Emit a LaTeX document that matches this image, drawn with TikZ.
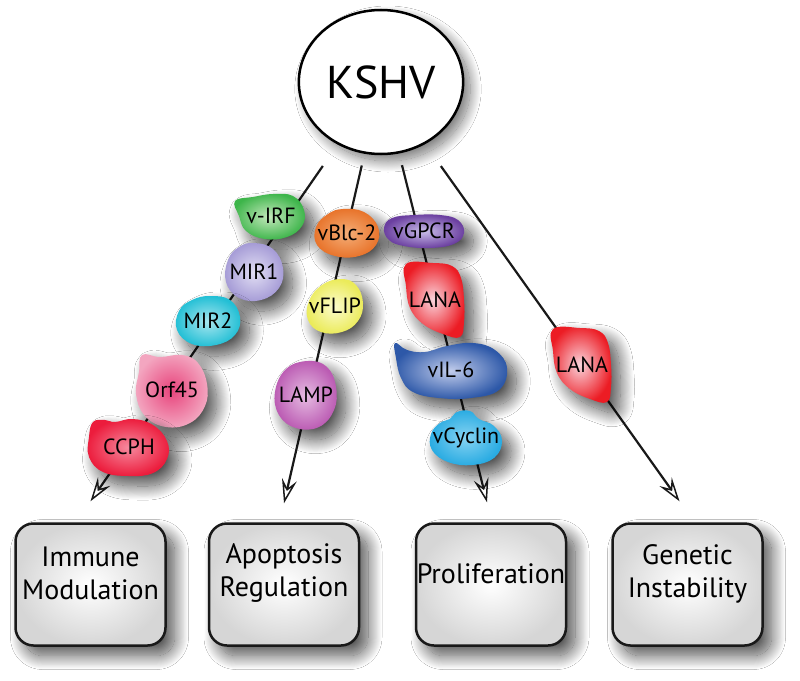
\documentclass[tikz,border=0pt]{standalone}
\usepackage{fontspec}
\setmainfont{PT Sans}
\usetikzlibrary{shapes.geometric,arrows.meta,shadows.blur,calc}

\definecolor{cIRFo}{HTML}{3DB54A}\definecolor{cIRFi}{HTML}{C4E8BC}
\definecolor{cMIAo}{HTML}{A59BD6}\definecolor{cMIAi}{HTML}{E2DFF4}
\definecolor{cMIBo}{HTML}{22BFD5}\definecolor{cMIBi}{HTML}{A8E6EF}
\definecolor{cORFo}{HTML}{F3A6C0}\definecolor{cORFi}{HTML}{E8447C}
\definecolor{cCCPo}{HTML}{EC1C3C}\definecolor{cCCPi}{HTML}{F6899E}
\definecolor{cBCLo}{HTML}{E8732A}\definecolor{cBCLi}{HTML}{F4AE78}
\definecolor{cFLPo}{HTML}{EBEB5A}\definecolor{cFLPi}{HTML}{FBFBCC}
\definecolor{cLMPo}{HTML}{BB5BB3}\definecolor{cLMPi}{HTML}{E6BCE2}
\definecolor{cGPCo}{HTML}{6B3FA0}\definecolor{cGPCi}{HTML}{C9BEE9}
\definecolor{cLANo}{HTML}{EC1C24}\definecolor{cLANi}{HTML}{FAD4DC}
\definecolor{cVILo}{HTML}{2D58A8}\definecolor{cVILi}{HTML}{C2CDEC}
\definecolor{cCYCo}{HTML}{29ABE2}\definecolor{cCYCi}{HTML}{86D3F2}

\tikzset{
  every node/.style={font=\fontsize{22}{25}\selectfont},
  kshvnode/.style={ellipse, draw=black, line width=2.5pt, fill=white,
    minimum width=153pt, minimum height=144pt,
    font=\fontsize{46}{50}\selectfont,
    blur shadow={shadow xshift=7pt, shadow yshift=-7pt, shadow blur radius=11pt, shadow blur steps=30, shadow opacity=55}},
  outbox/.style={draw=black!90, line width=2.5pt, rounded corners=18pt,
    minimum width=150pt, minimum height=122pt, inner color=white, outer color=black!16,
    blur shadow={shadow xshift=9pt, shadow yshift=-10pt, shadow blur radius=14pt, shadow blur steps=30, shadow opacity=70}},
  boxtext/.style={align=center, font=\fontsize{28}{33}\selectfont},
  blobtext/.style={inner sep=0pt},
  blobfill/.style={blur shadow={shadow xshift=9pt, shadow yshift=-10pt, shadow blur radius=14pt, shadow blur steps=30, shadow opacity=70}},
  conn/.style={line width=2.2pt, draw=black!90,
    -{Stealth[length=24pt, width=15pt, inset=9pt, fill=white, line width=1.5pt]}}
}

\newcommand{\blobnode}[6]{%
  \path[blobfill, shift={(#2)}, outer color=#4, inner color=#5]
    plot[smooth cycle, tension=0.7] coordinates {#6};
  \node[blobtext] (#1) at (#2) {#3};}

\begin{document}
\begin{tikzpicture}[x=1pt,y=-1pt]
\useasboundingbox (0,0) rectangle (800,680);
\fill[white] (0,0) rectangle (800,680);

\node[kshvnode] (kshv) at (381,82) {KSHV};

\node[outbox] (b1) at (90.5,584.5) {};
\node[outbox] (b2) at (284,584.5) {};
\node[outbox] (b3) at (491,584.5) {};
\node[outbox] (b4) at (687.5,584.5) {};
\node[boxtext] (l1) at ([yshift=11pt]b1.center) {Immune\\Modulation};
\node[boxtext] (l2) at ([yshift=11pt]b2.center) {Apoptosis\\Regulation};
\node[boxtext] (l3) at ([yshift=11pt]b3.center) {Proliferation};
\node[boxtext] (l4) at ([yshift=11pt]b4.center) {Genetic\\Instability};

\coordinate (t1) at ([yshift=21pt]b1.north);
\coordinate (t2) at ([yshift=19pt]b2.north);
\coordinate (t3) at ([xshift=-4pt,yshift=20pt]b3.north);
\coordinate (t4) at ([xshift=-8pt,yshift=21pt]b4.north);

\draw[conn, shorten <=26pt] (kshv) -- (t1);
\draw[conn, shorten <=12pt] (kshv) -- (t2);
\draw[conn, shorten <=12pt] (kshv) -- (t3);
\draw[conn, shorten <=27pt] (kshv) -- (t4);

\blobnode{virf}{271,216}{v-IRF}{cIRFo}{cIRFi}{(-36,-15) (-18,-19) (2,-22) (22,-20) (33,-6) (31,10) (16,21) (-6,23) (-25,15) (-32,0)}
\blobnode{mira}{254,272}{MIR1}{cMIAo}{cMIAi}{(0,-29) (19,-23) (29,-4) (25,16) (7,28) (-15,26) (-28,10) (-26,-12) (-15,-25)}
\blobnode{mirb}{208,321}{MIR2}{cMIBo}{cMIBi}{(2,-25) (22,-21) (32,-4) (27,14) (8,24) (-16,23) (-31,9) (-29,-10) (-16,-21)}
\blobnode{orf}{172,390}{Orf45}{cORFo}{cORFi}{(-30,-35) (-12,-33) (10,-35) (26,-27) (35,-6) (33,16) (18,33) (-6,37) (-27,26) (-36,4) (-33,-18)}
\blobnode{ccph}{129,447}{CCPH}{cCCPo}{cCCPi}{(-36,-25) (-24,-27) (-14,-25) (4,-28) (24,-22) (38,-6) (38,12) (24,26) (0,29) (-26,25) (-40,10) (-40,-10)}
\blobnode{vbcl}{347,233}{vBlc-2}{cBCLo}{cBCLi}{(-4,-24) (17,-21) (31,-6) (29,12) (12,23) (-12,23) (-30,12) (-31,-6) (-19,-19)}
\blobnode{vflip}{335,306}{vFLIP}{cFLPo}{cFLPi}{(6,-27) (21,-21) (28,-3) (23,15) (7,26) (-14,26) (-27,14) (-26,-5) (-13,-21)}
\blobnode{lamp}{306,395}{LAMP}{cLMPo}{cLMPi}{(2,-34) (21,-28) (30,-8) (28,15) (13,32) (-10,33) (-27,20) (-31,-3) (-20,-26)}
\blobnode{vgpcr}{424,231}{vGPCR}{cGPCo}{cGPCi}{(-40,-3) (-32,-13) (-10,-16) (16,-16) (34,-11) (40,2) (30,13) (6,17) (-20,15) (-35,9)}
\blobnode{lanaa}{435,300}{LANA}{cLANo}{cLANi}{(-29,-36) (-2,-37) (17,-34) (26,-22) (29,0) (29,22) (25,37) (8,34) (-12,24) (-25,8) (-29,-14)}
\blobnode{vil}{451,370}{vIL-6}{cVILo}{cVILi}{(-56,-27) (-44,-20) (-26,-18) (-4,-24) (22,-27) (44,-20) (56,-2) (48,20) (20,28) (-12,28) (-38,22) (-50,8) (-55,-12)}
\blobnode{vcyc}{466,438}{vCyclin}{cCYCo}{cCYCi}{(-16,-19) (-9,-26) (4,-27) (13,-19) (28,-12) (36,3) (28,20) (6,27) (-18,24) (-34,12) (-35,-4) (-26,-15)}
\blobnode{lanab}{582,365}{LANA}{cLANo}{cLANi}{(-29,-36) (-2,-37) (17,-34) (26,-22) (29,0) (29,22) (25,37) (8,34) (-12,24) (-25,8) (-29,-14)}
\end{tikzpicture}
\end{document}
